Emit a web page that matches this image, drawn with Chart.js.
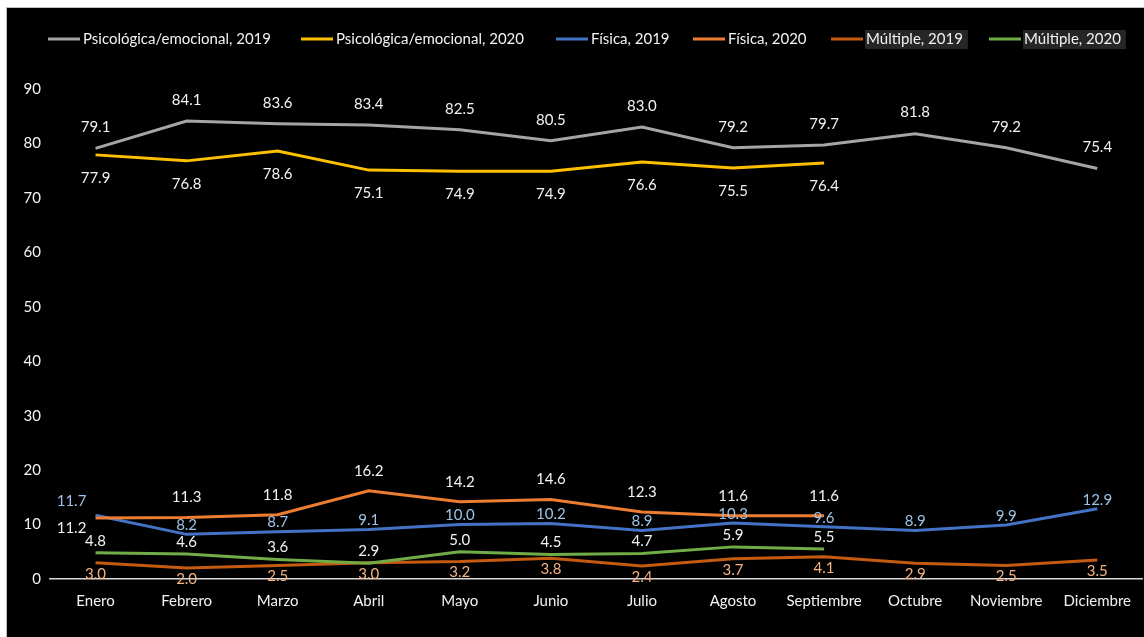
<!DOCTYPE html>
<html>
<head>
<meta charset="utf-8">
<script src="https://cdn.jsdelivr.net/npm/chart.js@4.4.1/dist/chart.umd.min.js"></script>
<style>
  html, body { margin: 0; padding: 0; background: #ffffff; width: 1144px; height: 637px; overflow: hidden; }
  #wrap { position: absolute; left: 6px; top: 7px; width: 1137px; height: 629px; background: #000; border-left: 1px solid #bfbfbf; border-top: 1px solid #bfbfbf; }
  canvas { display: block; }
</style>
</head>
<body>
<div id="wrap"><canvas id="c" width="1137" height="629"></canvas></div>
<script>
const categories = ['Enero','Febrero','Marzo','Abril','Mayo','Junio','Julio','Agosto','Septiembre','Octubre','Noviembre','Diciembre'];
const psico2019 = [79.1, 84.1, 83.6, 83.4, 82.5, 80.5, 83.0, 79.2, 79.7, 81.8, 79.2, 75.4];
const psico2020 = [77.9, 76.8, 78.6, 75.1, 74.9, 74.9, 76.6, 75.5, 76.4];
const fisica2019 = [11.7, 8.2, 8.7, 9.1, 10.0, 10.2, 8.9, 10.3, 9.6, 8.9, 9.9, 12.9];
const fisica2020 = [11.2, 11.3, 11.8, 16.2, 14.2, 14.6, 12.3, 11.6, 11.6];
const multiple2019 = [3.0, 2.0, 2.5, 3.0, 3.2, 3.8, 2.4, 3.7, 4.1, 2.9, 2.5, 3.5];
const multiple2020 = [4.8, 4.6, 3.6, 2.9, 5.0, 4.5, 4.7, 5.9, 5.5];
const seriesNames = ['Psicológica/emocional, 2019','Psicológica/emocional, 2020','Física, 2019','Física, 2020','Múltiple, 2019','Múltiple, 2020'];
const yTicks = [0, 10, 20, 30, 40, 50, 60, 70, 80, 90];

const FONT = 'Lato, "Open Sans", sans-serif';
const TXT = '#F2F2F2';
const legendStarts = [41, 294, 549, 686, 824, 982];

function ds(label, data, color, labelColor, dy, extra) {
  return Object.assign({
    label, data,
    borderColor: color, backgroundColor: color,
    borderWidth: 3, pointRadius: 0, tension: 0, fill: false,
    spanGaps: false,
    lblColor: labelColor, lblDy: dy
  }, extra || {});
}

const datasets = [
  ds(seriesNames[0], psico2019, '#A5A5A5', TXT, -21),
  ds(seriesNames[1], psico2020, '#FFC000', TXT, 23),
  ds(seriesNames[2], fisica2019, '#4472C4', '#9DC3E6', -9, { firstOff: [-24, -14] }),
  ds(seriesNames[3], fisica2020, '#ED7D31', TXT, -20, { firstOff: [-24, 10] }),
  ds(seriesNames[4], multiple2019, '#C55A11', '#F4B183', 11, { legendBox: true }),
  ds(seriesNames[5], multiple2020, '#70AD47', TXT, -12, { legendBox: true })
];
datasets.forEach((d, i) => { d.order = datasets.length - i; });

const labelPlugin = {
  id: 'valueLabels',
  afterDatasetsDraw(chart) {
    const ctx = chart.ctx;
    ctx.save();
    ctx.font = '15px ' + FONT;
    ctx.textAlign = 'center';
    ctx.textBaseline = 'middle';
    chart.data.datasets.forEach((d, di) => {
      const meta = chart.getDatasetMeta(di);
      meta.data.forEach((pt, i) => {
        const v = d.data[i];
        if (v === null || v === undefined) return;
        let x = pt.x, y = pt.y + d.lblDy;
        if (i === 0 && d.firstOff) { x = pt.x + d.firstOff[0]; y = pt.y + d.firstOff[1]; }
        ctx.fillStyle = d.lblColor;
        ctx.fillText(v.toFixed(1), x, y);
      });
    });
    ctx.restore();
  }
};

const legendPlugin = {
  id: 'customLegend',
  afterDraw(chart) {
    const ctx = chart.ctx;
    ctx.save();
    ctx.font = '15px ' + FONT;
    ctx.textBaseline = 'middle';
    ctx.textAlign = 'left';
    const cy = 31;
    chart.data.datasets.forEach((d, i) => {
      const x = legendStarts[i];
      const w = ctx.measureText(d.label).width;
      ctx.strokeStyle = d.borderColor;
      ctx.lineWidth = 3;
      ctx.beginPath();
      ctx.moveTo(x, cy); ctx.lineTo(x + 32, cy);
      ctx.stroke();
      const tx = x + 35;
      if (d.legendBox) {
        ctx.fillStyle = '#262626';
        ctx.fillRect(tx - 1, cy - 9, w + 6, 19);
      }
      ctx.fillStyle = TXT;
      ctx.fillText(d.label, tx, cy);
    });
    ctx.restore();
  }
};

new Chart(document.getElementById('c'), {
  type: 'line',
  data: { labels: categories, datasets },
  options: {
    responsive: false,
    devicePixelRatio: 1,
    animation: false,
    layout: { padding: { top: 81, right: 1, left: 0, bottom: 0 } },
    plugins: { legend: { display: false }, tooltip: { enabled: false } },
    scales: {
      x: {
        type: 'category',
        offset: true,
        grid: { display: false, drawTicks: false },
        border: { display: true, color: '#D9D9D9', width: 1.5 },
        ticks: { color: TXT, font: { family: FONT, size: 15 }, padding: 13, maxRotation: 0, autoSkip: false },
        afterFit(s) { s.height = 58; }
      },
      y: {
        min: 0, max: 90,
        afterBuildTicks(s) { s.ticks = yTicks.map(v => ({ value: v })); },
        grid: { display: false, drawTicks: false },
        border: { display: false },
        ticks: { color: TXT, font: { family: FONT, size: 15 }, padding: 9 },
        afterFit(s) { s.width = 43; }
      }
    }
  },
  plugins: [labelPlugin, legendPlugin]
});
</script>
</body>
</html>
